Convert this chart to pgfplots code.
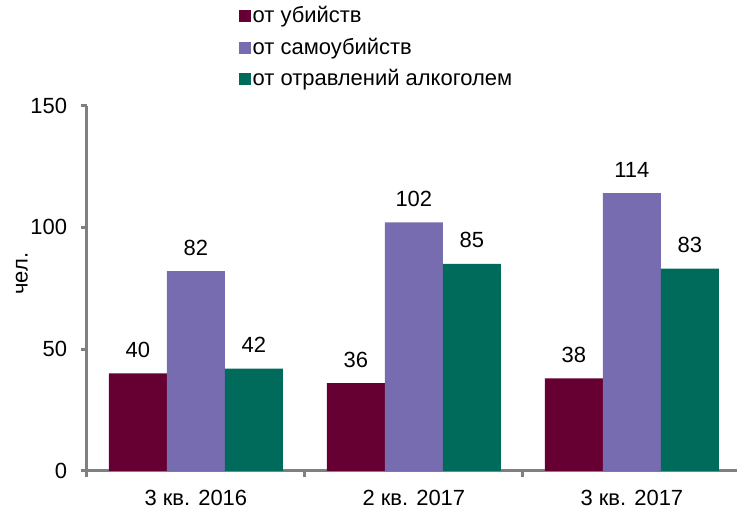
\documentclass[border=0pt]{standalone}
\usepackage{fontspec}
\setmainfont{Liberation Sans}
\usepackage{pgfplots}
\pgfplotsset{compat=1.18}
\definecolor{cmaroon}{RGB}{102,0,51}
\definecolor{cpurple}{RGB}{120,108,176}
\definecolor{cteal}{RGB}{0,107,90}
\definecolor{axisgray}{RGB}{128,128,128}

\begin{document}
\fontsize{11}{13.2}\selectfont
\begin{tikzpicture}
\begin{axis}[
    scale only axis,
    width=325.5pt, height=183pt,
    ybar=0pt, bar width=0.266,
    xmin=-0.5, xmax=2.48,
    ymin=0, ymax=150,
    ytick={0,50,100,150},
    xtick={0,1,2},
    xticklabels={3 кв. 2016, 2 кв. 2017, 3 кв. 2017},
    minor xtick={-0.5,0.5,1.5,2.5},
    axis x line*=bottom, axis y line*=left,
    axis line style={axisgray, line width=1.5pt, -},
    major x tick style={draw=none},
    minor x tick style={draw=axisgray, line width=1.5pt},
    ytick style={draw=axisgray, line width=1.5pt},
    tick align=outside,
    major tick length=3pt, minor tick length=3pt,
    yticklabel style={xshift=-3pt},
    xticklabel style={yshift=-3pt},
    /pgf/number format/assume math mode=true,
    tick label style={font=\fontsize{11}{13.2}\selectfont},
    ylabel={чел.},
    ylabel style={at={(axis description cs:-0.1,0.54)}, anchor=center,
                  font=\fontsize{11}{13.2}\selectfont},
    nodes near coords,
    every node near coord/.append style={font=\fontsize{11}{13.2}\selectfont, yshift=4pt},
    legend style={at={(0.224,1.29)}, anchor=north west, draw=none, fill=none,
                  font=\fontsize{11}{13.2}\selectfont, row sep=4.1pt,
                  nodes={inner sep=1pt}},
    legend cell align=left,
    legend image code/.code={\fill[#1] (0pt,-3pt) rectangle (6pt,3pt);},
  ]
  \addplot[fill=cmaroon, draw=none] coordinates {(0,40) (1,36) (2,38)};
  \addlegendentry{от убийств}
  \addplot[fill=cpurple, draw=none] coordinates {(0,82) (1,102) (2,114)};
  \addlegendentry{от самоубийств}
  \addplot[fill=cteal, draw=none] coordinates {(0,42) (1,85) (2,83)};
  \addlegendentry{от отравлений алкоголем}
\end{axis}
% white margin left of the y label, as in the reference
\path (current axis.south west) ++(-43.5pt,0pt);
\end{tikzpicture}
\end{document}
